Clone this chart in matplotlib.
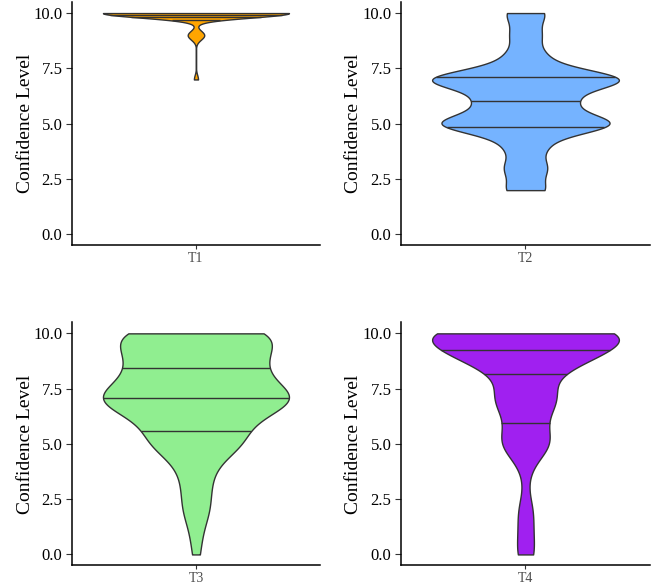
import matplotlib
matplotlib.use("Agg")
import matplotlib.pyplot as plt
import numpy as np
from matplotlib import cbook, mlab
from matplotlib.ticker import FormatStrFormatter

# confidence levels 0..10 and number of answers per level
levels = np.arange(11)
t1_counts = [0, 0, 0, 0, 0, 0, 0, 1, 0, 4, 45]
t2_counts = [0, 0, 13, 14, 13, 59, 30, 66, 13, 10, 13]
t3_counts = [2, 3, 7, 7, 9, 24, 25, 53, 33, 33, 42]
t4_counts = [7, 5, 6, 1, 4, 21, 12, 25, 16, 52, 84]

tasks = ["T1", "T2", "T3", "T4"]
colores = ["#FFA500", "#75B3FF", "#90EE90", "#A020F0"]
cuantiles = [0.25, 0.5, 0.75]

plt.rcParams["font.family"] = ["Liberation Serif", "DejaVu Serif"]


def nrd0(x):
    # same rule of thumb as R's bw.nrd0 (ggplot default)
    hi = np.std(x, ddof=1)
    q75, q25 = np.percentile(x, [75, 25])
    lo = min(hi, (q75 - q25) / 1.34)
    if lo == 0:
        lo = hi
    return 0.9 * lo * len(x) ** -0.2


def kde(x, coords):
    factor = nrd0(x) / np.std(x, ddof=1)
    return mlab.GaussianKDE(x, bw_method=factor).evaluate(coords)


fig = plt.figure(figsize=(6.67, 5.86), dpi=100)
posiciones = [
    [0.1079, 0.5811, 0.3718, 0.4155],
    [0.6012, 0.5811, 0.3733, 0.4155],
    [0.1079, 0.0350, 0.3718, 0.4150],
    [0.6012, 0.0350, 0.3733, 0.4150],
]

for counts, nombre, color, pos in zip([t1_counts, t2_counts, t3_counts, t4_counts],
                                       tasks, colores, posiciones):
    ax = fig.add_axes(pos)
    datos = np.repeat(levels, counts).astype(float)
    stats = cbook.violin_stats([datos], kde, points=512)
    partes = ax.violin(stats, positions=[1], widths=0.9, showmeans=False,
                       showextrema=False, showmedians=False)
    for b in partes["bodies"]:
        b.set_facecolor(color)
        b.set_edgecolor("#333333")
        b.set_linewidth(1.0)
        b.set_alpha(1)

    # quantile lines like ggplot draw_quantiles (from the density)
    y = stats[0]["coords"]
    d = stats[0]["vals"]
    cdf = np.cumsum(d) / d.sum()
    ys = np.interp(cuantiles, cdf, y)
    w = np.interp(ys, y, d) / d.max() * 0.45
    ax.hlines(ys, 1 - w, 1 + w, color="#333333", lw=1.0, zorder=3)

    ax.set_xlim(0.4, 1.6)
    ax.set_ylim(-0.5, 10.5)
    ax.set_yticks([0, 2.5, 5, 7.5, 10])
    ax.yaxis.set_major_formatter(FormatStrFormatter("%.1f"))
    ax.set_xticks([1])
    ax.set_xticklabels([nombre])
    ax.spines["top"].set_visible(False)
    ax.spines["right"].set_visible(False)
    ax.spines["left"].set_linewidth(1.1)
    ax.spines["bottom"].set_linewidth(1.1)
    ax.tick_params(axis="y", labelsize=12, labelcolor="black", length=4.3,
                   width=0.8, color="#333333", pad=2.5)
    ax.tick_params(axis="x", labelsize=10, labelcolor="#4D4D4D", length=3,
                   width=0.8, color="#333333", pad=1.5)
    ax.set_ylabel("Confidence Level", fontsize=14)
    ax.yaxis.set_label_coords(-0.155, 0.5)

plt.savefig("out.png", dpi=100)
